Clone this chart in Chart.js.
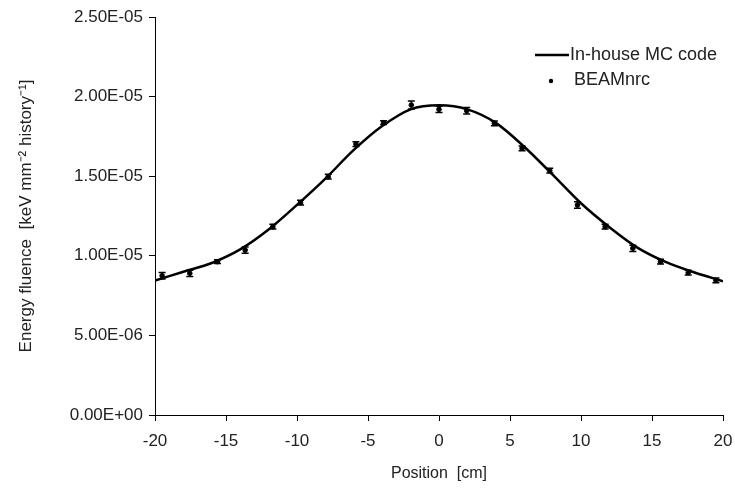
<!DOCTYPE html>
<html lang="en">
<head>
  <meta charset="UTF-8">
  <title>Energy fluence profile</title>
  <style>
    body { margin: 0; background: #fff; }
    #wrap { width: 735px; height: 490px; }
  </style>
  <script src="https://cdn.jsdelivr.net/npm/chart.js@4.4.4/dist/chart.umd.js"></script>
</head>
<body>
  <div id="wrap"><canvas id="chart"></canvas></div>
<script>
  // In-house MC code curve
  const lineX = [-20, -18, -16, -14, -12, -10, -8, -6, -4, -2, 0, 2, 4, 6, 8, 10, 12, 14, 16, 18, 20];
  const lineY = [8.45e-6, 9.0e-6, 9.55e-6, 10.4e-6, 11.65e-6, 13.2e-6, 14.85e-6, 16.65e-6, 18.15e-6, 19.2e-6, 19.45e-6,
    19.2e-6, 18.35e-6, 16.85e-6, 15.1e-6, 13.3e-6, 11.8e-6, 10.5e-6, 9.6e-6, 8.95e-6, 8.4e-6];

  // BEAMnrc points with error bars
  const beamX = [-19.5, -17.55, -15.6, -13.65, -11.7, -9.75, -7.8, -5.85, -3.9, -1.95, 0,
    1.95, 3.9, 5.85, 7.8, 9.75, 11.7, 13.65, 15.6, 17.55, 19.5];
  const beamY = [8.75e-6, 8.9e-6, 9.63e-6, 10.36e-6, 11.83e-6, 13.34e-6, 14.97e-6, 17.02e-6, 18.36e-6, 19.47e-6, 19.2e-6,
    19.11e-6, 18.32e-6, 16.75e-6, 15.35e-6, 13.19e-6, 11.83e-6, 10.47e-6, 9.63e-6, 8.94e-6, 8.45e-6];
  const beamErr = [0.2e-6, 0.2e-6, 0.12e-6, 0.2e-6, 0.15e-6, 0.15e-6, 0.15e-6, 0.15e-6, 0.12e-6, 0.25e-6, 0.2e-6,
    0.2e-6, 0.15e-6, 0.15e-6, 0.15e-6, 0.2e-6, 0.15e-6, 0.2e-6, 0.15e-6, 0.15e-6, 0.15e-6];

  const xTicks = [-20, -15, -10, -5, 0, 5, 10, 15, 20];
  const legendLabels = ['In-house MC code', 'BEAMnrc'];

  const textColor = '#222';
  const family = 'Arial, "Liberation Sans", sans-serif';
  const tickFont = { family: family, size: 17 };
  const titleFont = { family: family, size: 16 };
  const yTitleFont = { family: family, size: 17 };

  function sci(v) {
    if (Math.abs(v) < 1e-12) return '0.00E+00';
    const [m, e] = v.toExponential(2).split('e');
    const n = parseInt(e, 10);
    return m + 'E' + (n < 0 ? '-' : '+') + String(Math.abs(n)).padStart(2, '0');
  }

  const errorBars = {
    id: 'errorBars',
    afterDatasetsDraw(chart) {
      const ctx = chart.ctx;
      const xs = chart.scales.x, ys = chart.scales.y;
      ctx.save();
      ctx.strokeStyle = '#000';
      ctx.lineWidth = 1.5;
      beamX.forEach((x, i) => {
        const px = xs.getPixelForValue(x);
        const top = ys.getPixelForValue(beamY[i] + beamErr[i]);
        const bot = ys.getPixelForValue(beamY[i] - beamErr[i]);
        ctx.beginPath();
        ctx.moveTo(px, top); ctx.lineTo(px, bot);
        ctx.moveTo(px - 3.5, top); ctx.lineTo(px + 3.5, top);
        ctx.moveTo(px - 3.5, bot); ctx.lineTo(px + 3.5, bot);
        ctx.stroke();
      });
      ctx.restore();
    }
  };

  const legendBox = {
    id: 'legendBox',
    afterDraw(chart) {
      const ctx = chart.ctx;
      ctx.save();
      ctx.font = '18px ' + family;
      ctx.fillStyle = textColor;
      ctx.textBaseline = 'middle';
      ctx.fillText(legendLabels[0], 570, 55);
      ctx.fillText(legendLabels[1], 574, 80);
      ctx.strokeStyle = '#000';
      ctx.lineWidth = 2.5;
      ctx.beginPath();
      ctx.moveTo(535, 55); ctx.lineTo(569, 55);
      ctx.stroke();
      ctx.fillStyle = '#000';
      ctx.beginPath();
      ctx.arc(551, 81, 2.2, 0, Math.PI * 2);
      ctx.fill();
      ctx.restore();
    }
  };

  new Chart('chart', {
    type: 'scatter',
    data: {
      datasets: [{
        label: legendLabels[1],
        data: beamX.map((x, i) => ({ x: x, y: beamY[i] })),
        backgroundColor: '#000',
        borderColor: '#000',
        pointRadius: 2.3,
        showLine: false,
        order: 0
      },
      {
        label: legendLabels[0],
        data: lineX.map((x, i) => ({ x: x, y: lineY[i] })),
        borderColor: '#000',
        borderWidth: 2.5,
        pointRadius: 0,
        showLine: true,
        cubicInterpolationMode: 'monotone',
        order: 1
      }]
    },
    options: {
      responsive: true,
      maintainAspectRatio: false,
      animation: false,
      layout: { padding: { left: 10, top: 17, right: 12, bottom: 7 } },
      plugins: { legend: { display: false }, tooltip: { enabled: false } },
      scales: {
        x: {
          type: 'linear',
          min: -20,
          max: 20,
          afterBuildTicks: (scale) => { scale.ticks = xTicks.map(v => ({ value: v })); },
          afterFit: (scale) => {
            scale.height = 68;
            scale.paddingLeft = 0;
            scale.paddingRight = 0;
          },
          ticks: { color: textColor, font: tickFont, padding: 10, maxRotation: 0 },
          grid: { drawOnChartArea: false, tickLength: 6, color: '#000' },
          border: { color: '#000', width: 1 },
          title: { display: true, text: 'Position  [cm]', color: textColor, font: titleFont, padding: 0 }
        },
        y: {
          min: 0,
          max: 2.5e-5,
          afterFit: (scale) => { scale.width = 145; },
          ticks: { stepSize: 5e-6, color: textColor, font: tickFont, padding: 6, callback: (v) => sci(v) },
          grid: { drawOnChartArea: false, tickLength: 6, color: '#000' },
          border: { color: '#000', width: 1 },
          title: { display: true, text: 'Energy fluence  [keV mm\u207B\u00B2 history\u207B\u00B9]', color: textColor, font: yTitleFont, padding: 6 }
        }
      }
    },
    plugins: [errorBars, legendBox]
  });
</script>
</body>
</html>
